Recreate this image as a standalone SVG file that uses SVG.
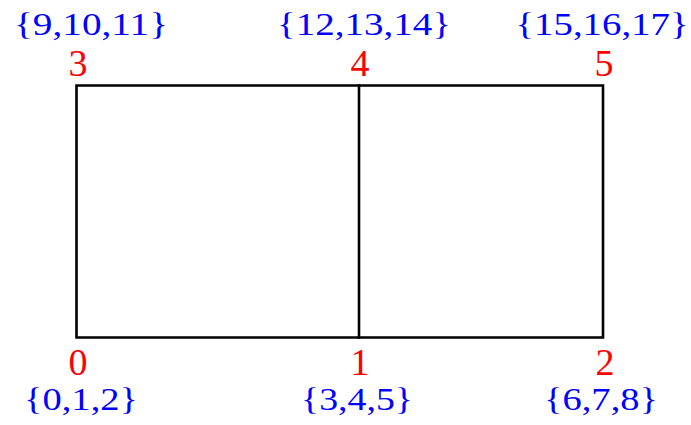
<svg xmlns="http://www.w3.org/2000/svg" width="691" height="425" viewBox="0 0 691 425">
<style>
.edge{stroke:#000;stroke-width:2.6;fill:none;stroke-linecap:square}
.vid{font-family:"Liberation Serif","DejaVu Serif",serif;font-size:38px;fill:#ff0000;text-anchor:middle}
.dof{font-family:"Liberation Serif","DejaVu Serif",serif;font-size:32.5px;fill:#0000ff;text-anchor:middle}
</style>
<rect width="691" height="425" fill="#fff"/>
<g id="connectors">
<path class="edge" d="M76.5 85.5H603V337.5H76.5Z"/>
<path class="edge" d="M359 85.5V337.5"/>
</g>
<g id="node0"><text class="vid" x="78" y="375">0</text><text class="dof" x="81" y="410" textLength="114" lengthAdjust="spacingAndGlyphs">{0,1,2}</text></g>
<g id="node1"><text class="vid" x="360" y="375">1</text><text class="dof" x="357" y="410" textLength="112" lengthAdjust="spacingAndGlyphs">{3,4,5}</text></g>
<g id="node2"><text class="vid" x="605" y="375">2</text><text class="dof" x="601" y="410" textLength="114" lengthAdjust="spacingAndGlyphs">{6,7,8}</text></g>
<g id="node3"><text class="vid" x="78" y="76">3</text><text class="dof" x="91" y="35" textLength="154" lengthAdjust="spacingAndGlyphs">{9,10,11}</text></g>
<g id="node4"><text class="vid" x="360" y="76">4</text><text class="dof" x="364" y="35" textLength="174" lengthAdjust="spacingAndGlyphs">{12,13,14}</text></g>
<g id="node5"><text class="vid" x="604" y="76">5</text><text class="dof" x="602" y="35" textLength="173" lengthAdjust="spacingAndGlyphs">{15,16,17}</text></g>
</svg>
